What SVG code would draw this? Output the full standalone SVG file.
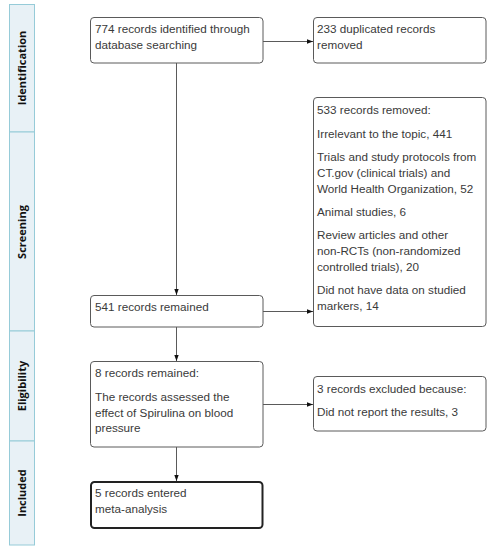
<svg xmlns="http://www.w3.org/2000/svg" width="492" height="550" viewBox="0 0 492 550">
<defs>
<style>
.bar{fill:#e8f1f6;stroke:#96cbd8;stroke-width:1}
.lab{font-family:"Open Sans","Noto Sans",sans-serif;font-weight:bold;font-size:11px;fill:#111;text-anchor:middle}
.box{fill:#fff;stroke:#5a5a5a;stroke-width:1}
.bold{stroke:#222;stroke-width:2}
.t{font-family:"Liberation Sans",Arial,sans-serif;font-size:11.7px;fill:#3a3a3a}
.c{stroke:#5a5a5a;stroke-width:1;fill:none;marker-end:url(#ah)}
</style>
<marker id="ah" viewBox="0 0 6 6" refX="6" refY="3" markerWidth="6" markerHeight="6" markerUnits="userSpaceOnUse" orient="auto">
<path d="M0,0.8 L6,3 L0,5.2 Z" fill="#111"/>
</marker>
</defs>
<rect width="492" height="550" fill="#fff"/>
<g id="phases">
<g id="phase-identification"><rect class="bar" x="9.5" y="4.5" width="25" height="127.5"/><text class="lab" transform="translate(25.5,68) rotate(-90)">Identification</text></g>
<g id="phase-screening"><rect class="bar" x="9.5" y="132" width="25" height="199"/><text class="lab" transform="translate(25.5,232) rotate(-90)">Screening</text></g>
<g id="phase-eligibility"><rect class="bar" x="9.5" y="331" width="25" height="110"/><text class="lab" transform="translate(25.5,386) rotate(-90)">Eligibility</text></g>
<g id="phase-included"><rect class="bar" x="9.5" y="441" width="25" height="104"/><text class="lab" transform="translate(25.5,493) rotate(-90)">Included</text></g>
</g>
<g id="connectors">
<line class="c" x1="263" y1="41.5" x2="313" y2="41.5"/>
<line class="c" x1="176.5" y1="63" x2="176.5" y2="295"/>
<line class="c" x1="263" y1="311.5" x2="313" y2="311.5"/>
<line class="c" x1="176.5" y1="327" x2="176.5" y2="361"/>
<line class="c" x1="263" y1="404.5" x2="313" y2="404.5"/>
<line class="c" x1="176.5" y1="447" x2="176.5" y2="481"/>
</g>
<g id="n-identified"><rect class="box" x="90.5" y="17.5" width="172.5" height="45.5" rx="3.5"/>
<text class="t" x="95" y="33">774 records identified through</text><text class="t" x="95" y="48.5">database searching</text></g>
<g id="n-duplicates"><rect class="box" x="313.5" y="17.5" width="172.5" height="45.5" rx="3.5"/>
<text class="t" x="317" y="33">233 duplicated records</text><text class="t" x="317" y="48.5">removed</text></g>
<g id="n-removed"><rect class="box" x="313.5" y="97.5" width="172.5" height="229" rx="3.5"/>
<text class="t" x="317" y="114">533 records removed:</text>
<text class="t" x="317" y="138">Irrelevant to the topic, 441</text>
<text class="t" x="317" y="161">Trials and study protocols from</text>
<text class="t" x="317" y="177">CT.gov (clinical trials) and</text>
<text class="t" x="317" y="193">World Health Organization, 52</text>
<text class="t" x="317" y="216">Animal studies, 6</text>
<text class="t" x="317" y="239">Review articles and other</text>
<text class="t" x="317" y="255">non-RCTs (non-randomized</text>
<text class="t" x="317" y="271">controlled trials), 20</text>
<text class="t" x="317" y="294">Did not have data on studied</text>
<text class="t" x="317" y="310">markers, 14</text></g>
<g id="n-remained541"><rect class="box" x="90.5" y="295.5" width="172.5" height="31.5" rx="3.5"/>
<text class="t" x="95" y="311">541 records remained</text></g>
<g id="n-remained8"><rect class="box" x="90.5" y="361.5" width="172.5" height="85.5" rx="3.5"/>
<text class="t" x="95" y="377">8 records remained:</text>
<text class="t" x="95" y="401">The records assessed the</text>
<text class="t" x="95" y="416.5">effect of Spirulina on blood</text>
<text class="t" x="95" y="432">pressure</text></g>
<g id="n-excluded"><rect class="box" x="313.5" y="376.5" width="172.5" height="54.5" rx="3.5"/>
<text class="t" x="317" y="393">3 records excluded because:</text>
<text class="t" x="317" y="416">Did not report the results, 3</text></g>
<g id="n-included"><rect class="box bold" x="91" y="482" width="171.5" height="46" rx="3.5"/>
<text class="t" x="95" y="497">5 records entered</text>
<text class="t" x="95" y="513">meta-analysis</text></g>
</svg>
